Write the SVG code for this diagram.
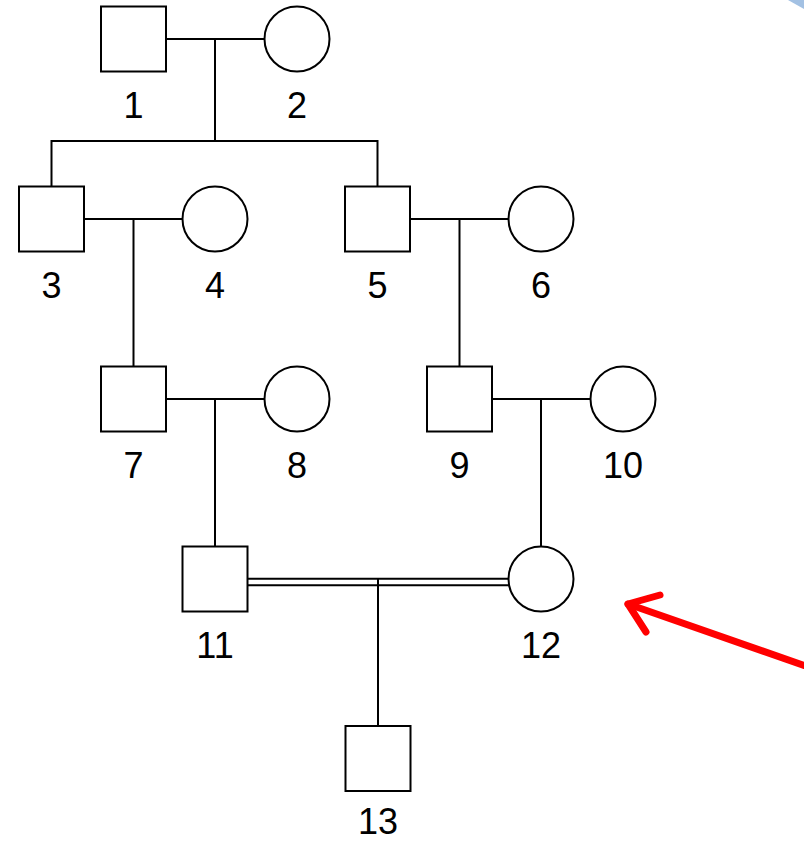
<svg xmlns="http://www.w3.org/2000/svg" width="804" height="841" viewBox="0 0 804 841">
<defs>
<style>
.n{fill:#fff;stroke:#000;stroke-width:2}
.c line,.c polyline{stroke:#000;stroke-width:2;fill:none}
text{font-family:"Liberation Sans",Arial,sans-serif;font-size:36px;fill:#000;text-anchor:middle}
</style>
</defs>
<rect width="804" height="841" fill="#fff"/>
<polygon points="788,0 804,0 804,9" fill="#a3c1e3"/>
<g id="connectors" class="c">
<line x1="166" y1="39" x2="264.5" y2="39"/>
<line x1="215" y1="39" x2="215" y2="141"/>
<polyline points="51.5,186.5 51.5,141 377.5,141 377.5,186.5"/>
<line x1="84" y1="219" x2="182.5" y2="219"/>
<line x1="133.5" y1="219" x2="133.5" y2="366.5"/>
<line x1="410" y1="219" x2="508.5" y2="219"/>
<line x1="459.5" y1="219" x2="459.5" y2="366.5"/>
<line x1="166" y1="399" x2="264.5" y2="399"/>
<line x1="215" y1="399" x2="215" y2="546.5"/>
<line x1="492" y1="399" x2="590.5" y2="399"/>
<line x1="541" y1="399" x2="541" y2="546.5"/>
<line x1="247.5" y1="578.7" x2="508.5" y2="578.7"/>
<line x1="247.5" y1="585.3" x2="509.5" y2="585.3"/>
<line x1="378" y1="578.7" x2="378" y2="726"/>
</g>
<g id="n1"><rect class="n" x="101" y="6.5" width="65" height="65"/><text x="133.5" y="118">1</text></g>
<g id="n2"><circle class="n" cx="297" cy="39" r="32.5"/><text x="297" y="118">2</text></g>
<g id="n3"><rect class="n" x="19" y="186.5" width="65" height="65"/><text x="51.5" y="298">3</text></g>
<g id="n4"><circle class="n" cx="215" cy="219" r="32.5"/><text x="215" y="298">4</text></g>
<g id="n5"><rect class="n" x="345" y="186.5" width="65" height="65"/><text x="377.5" y="298">5</text></g>
<g id="n6"><circle class="n" cx="541" cy="219" r="32.5"/><text x="541" y="298">6</text></g>
<g id="n7"><rect class="n" x="101" y="366.5" width="65" height="65"/><text x="133.5" y="478">7</text></g>
<g id="n8"><circle class="n" cx="297" cy="399" r="32.5"/><text x="297" y="478">8</text></g>
<g id="n9"><rect class="n" x="427" y="366.5" width="65" height="65"/><text x="459.5" y="478">9</text></g>
<g id="n10"><circle class="n" cx="623" cy="399" r="32.5"/><text x="623" y="478">10</text></g>
<g id="n11"><rect class="n" x="182.5" y="546.5" width="65" height="65"/><text x="215" y="658">11</text></g>
<g id="n12"><circle class="n" cx="541" cy="579" r="32.5"/><text x="541" y="658">12</text></g>
<g id="n13"><rect class="n" x="345.5" y="726" width="65" height="65"/><text x="378" y="834">13</text></g>
<g id="arrow" fill="none" stroke="#ff0000" stroke-width="7" stroke-linecap="round" stroke-linejoin="round">
<line x1="804" y1="665.5" x2="628" y2="604"/>
<polyline points="660,595 628,604 646,632"/>
</g>
</svg>
